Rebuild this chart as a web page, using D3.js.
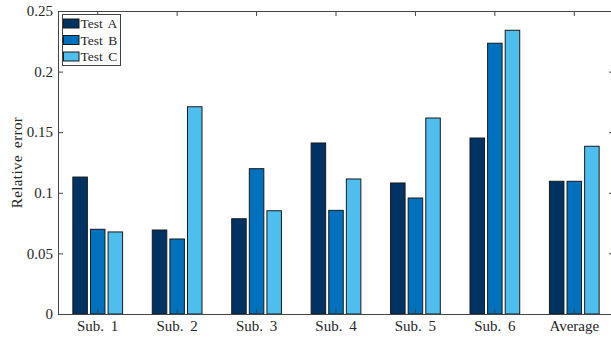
<!DOCTYPE html>
<html>
<head>
<meta charset="utf-8">
<script src="https://cdn.jsdelivr.net/npm/d3@7"></script>
<style>
  html, body { margin: 0; padding: 0; background: #fff; }
  svg { display: block; }
  text { font-family: "Liberation Serif", "DejaVu Serif", serif; fill: #262626; }
</style>
</head>
<body>
<svg id="chart" width="611" height="339"></svg>
<script>
// Relative error per subject for three tests
const categories = ["Sub. 1", "Sub. 2", "Sub. 3", "Sub. 4", "Sub. 5", "Sub. 6", "Average"];
const seriesNames = ["Test A", "Test B", "Test C"];
const testA = [0.1130, 0.0693, 0.0786, 0.1411, 0.1081, 0.1452, 0.1095];
const testB = [0.0699, 0.0619, 0.1199, 0.0855, 0.0957, 0.2234, 0.1095];
const testC = [0.0677, 0.1710, 0.0852, 0.1114, 0.1617, 0.2341, 0.1384];
const yTicks = [0, 0.05, 0.1, 0.15, 0.2, 0.25];
const yTickLabels = ["0", "0.05", "0.1", "0.15", "0.2", "0.25"];
const colors = ["#003264", "#0072BD", "#4DBEEE"];

const values = [testA, testB, testC];
const svg = d3.select("#chart");
const plotLeft = 58, plotRight = 614, plotTop = 11, plotBottom = 314;

const x = d3.scaleBand().domain(categories).range([plotLeft, plotRight]).padding(0);
const half = x.bandwidth() * 0.3325;
const xInner = d3.scaleBand().domain(seriesNames).range([-half, half])
  .paddingInner(0.176).paddingOuter(0.088);
const y = d3.scaleLinear().domain([0, 0.25]).range([plotBottom, plotTop]);

// Bars
const groups = svg.append("g").selectAll("g")
  .data(categories).join("g")
  .attr("transform", d => `translate(${x(d) + x.bandwidth() / 2},0)`);

groups.selectAll("rect")
  .data((c, i) => seriesNames.map((s, k) => ({ s, k, v: values[k][i] })))
  .join("rect")
  .attr("x", d => xInner(d.s))
  .attr("width", xInner.bandwidth())
  .attr("y", d => y(d.v))
  .attr("height", d => y(0) - y(d.v))
  .attr("fill", d => colors[d.k])
  .attr("stroke", "#1a1a1a")
  .attr("stroke-width", 1);

// Axes box with inward ticks
const axisColor = "#444";
const tickLen = 5;
const axes = svg.append("g");

const yLeft = d3.axisRight(y).tickValues(yTicks).tickSize(tickLen).tickFormat("");
axes.append("g").attr("transform", `translate(${plotLeft},0)`).call(yLeft);
const yRight = d3.axisLeft(y).tickValues(yTicks).tickSize(tickLen).tickFormat("");
axes.append("g").attr("transform", `translate(${plotRight},0)`).call(yRight);
const xBottom = d3.axisTop(x).tickSize(tickLen).tickFormat("");
axes.append("g").attr("transform", `translate(0,${plotBottom})`).call(xBottom);
const xTop = d3.axisBottom(x).tickSize(tickLen).tickFormat("");
axes.append("g").attr("transform", `translate(0,${plotTop})`).call(xTop);

axes.selectAll("path.domain").attr("stroke", axisColor).attr("stroke-width", 1);
axes.selectAll(".tick line").attr("stroke", axisColor).attr("stroke-width", 1);
axes.selectAll(".tick text").remove();

// Tick labels
svg.append("g").selectAll("text")
  .data(yTicks).join("text")
  .attr("x", plotLeft - 5)
  .attr("y", d => y(d))
  .attr("dy", "0.35em")
  .attr("text-anchor", "end")
  .attr("font-size", 15)
  .text((d, i) => yTickLabels[i]);

svg.append("g").selectAll("text")
  .data(categories).join("text")
  .attr("x", d => x(d) + x.bandwidth() / 2)
  .attr("y", plotBottom + 17)
  .attr("text-anchor", "middle")
  .attr("font-size", 15)
  .attr("word-spacing", "3px")
  .text(d => d);

// Y axis title
svg.append("text")
  .attr("transform", `translate(22,${(plotTop + plotBottom) / 2}) rotate(-90)`)
  .attr("text-anchor", "middle")
  .attr("font-size", 15)
  .attr("letter-spacing", "0.4px")
  .attr("word-spacing", "3px")
  .text("Relative error");

// Legend
const lg = svg.append("g").attr("transform", "translate(62.5,14.5)");
lg.append("rect").attr("width", 58).attr("height", 51)
  .attr("fill", "#fff").attr("stroke", axisColor).attr("stroke-width", 1);
const rows = lg.selectAll("g.row").data(seriesNames).join("g")
  .attr("class", "row")
  .attr("transform", (d, i) => `translate(0,${9 + i * 16.5})`);
rows.append("rect")
  .attr("x", 1).attr("y", -4.5).attr("width", 15.5).attr("height", 9)
  .attr("fill", (d, i) => colors[i]).attr("stroke", "#1a1a1a").attr("stroke-width", 1);
rows.append("text")
  .attr("x", 18).attr("y", 0).attr("dy", "0.35em")
  .attr("font-size", 13.5)
  .attr("word-spacing", "2px")
  .text(d => d);
</script>
</body>
</html>
